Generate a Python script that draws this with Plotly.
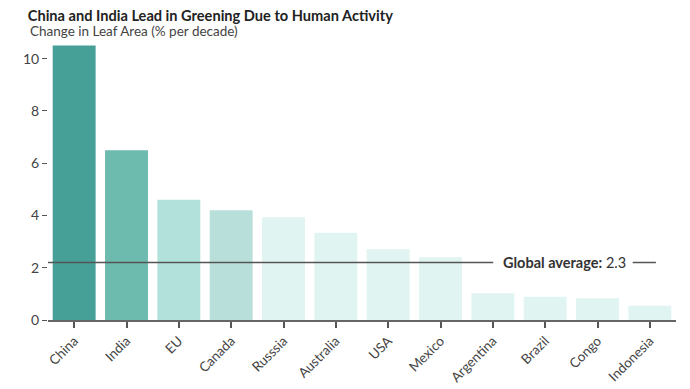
import plotly.graph_objects as go

countries = ["China", "India", "EU", "Canada", "Russsia", "Australia", "USA",
             "Mexico", "Argentina", "Brazil", "Congo", "Indonesia"]
leaf_change = [10.5, 6.5, 4.6, 4.2, 3.93, 3.34, 2.71, 2.4, 1.02, 0.89, 0.83, 0.55]
bar_colors = ["#46a097", "#6cbbae", "#b2e0da", "#b8dfd9"] + ["#e0f4f1"] * 8
global_avg_line = 2.2
global_avg_label = "2.3"
y_ticks = [0, 2, 4, 6, 8, 10]

font = "Lato, 'Open Sans', sans-serif"

fig = go.Figure()
fig.add_trace(go.Bar(x=countries, y=leaf_change, marker=dict(color=bar_colors, line=dict(width=0)),
                     hoverinfo="x+y"))

# global average line segments
fig.add_shape(type="line", xref="paper", yref="y", x0=0, x1=0.709,
              y0=global_avg_line, y1=global_avg_line, line=dict(color="#555555", width=1.5))
fig.add_shape(type="line", xref="paper", yref="y", x0=0.931, x1=0.968,
              y0=global_avg_line, y1=global_avg_line, line=dict(color="#555555", width=1.5))
fig.add_annotation(xref="paper", yref="y", x=0.823, y=global_avg_line,
                   text="<b>Global average:</b> " + global_avg_label, showarrow=False,
                   font=dict(family=font, size=14.5, color="#333333"), xanchor="center", yanchor="middle")

# page has an 8px body margin, so the figure is sized/placed to compensate
fig.update_layout(
    width=682, height=381,
    margin=dict(l=40, r=14, t=35, b=69),
    plot_bgcolor="white", paper_bgcolor="white",
    bargap=0.18,
    showlegend=False,
    font=dict(family=font, color="#444444"),
    title=dict(text="<b>China and India Lead in Greening Due to Human Activity</b>",
               x=0.029, xanchor="left", y=0.994, yanchor="top", pad=dict(t=0),
               font=dict(family=font, size=14.6, color="#222222")),
)
fig.add_annotation(xref="paper", yref="paper", x=-0.032, y=1.0, yshift=2,
                   text="Change in Leaf Area (% per decade)", showarrow=False,
                   xanchor="left", yanchor="bottom",
                   font=dict(family=font, size=13.5, color="#444444"))

fig.update_xaxes(showline=True, linecolor="#666666", linewidth=1.5, automargin=False,
                 ticks="outside", ticklen=6, tickcolor="#555555", tickwidth=1.5,
                 tickangle=-45, tickfont=dict(family=font, size=13.5, color="#444444"),
                 showgrid=False)
fig.update_yaxes(range=[0, 10.6], tickvals=y_ticks, showgrid=False, zeroline=False,
                 showline=False, ticks="outside", ticklen=5, tickcolor="#555555", automargin=False,
                 tickfont=dict(family=font, size=14, color="#444444"))

fig.write_html("out.html")
